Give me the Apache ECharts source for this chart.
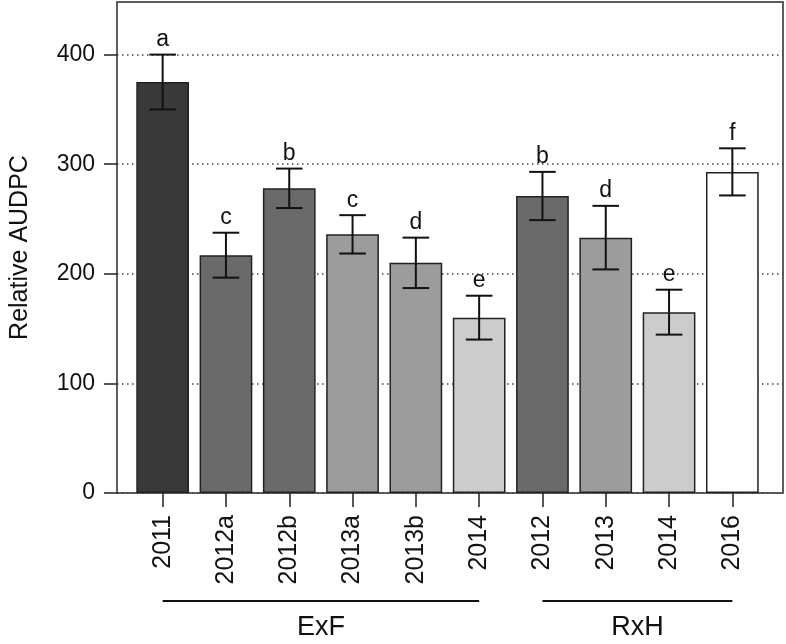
<!DOCTYPE html>
<html><head><meta charset="utf-8">
<script src="https://cdn.jsdelivr.net/npm/echarts@6/dist/echarts.min.js"></script>
<style>html,body{margin:0;padding:0;background:#fff}#c{width:786px;height:644px}</style>
</head><body><div id="c"></div>
<script>
const categories = ['2011','2012a','2012b','2013a','2013b','2014','2012','2013','2014','2016'];
const values = [375, 217, 278, 236, 210, 160, 271, 233, 165, 293];
const errors = [25, 20.5, 18, 17.5, 23, 20, 22, 29, 20.5, 21.5];
const letters = ['a','c','b','c','d','e','b','d','e','f'];
const barColors = ['#393939','#6a6a6a','#6a6a6a','#9c9c9c','#9c9c9c','#cccccc','#6a6a6a','#9c9c9c','#cccccc','#ffffff'];
const groupNames = ['ExF','RxH'];
const groupStart = [0, 6];
const groupEnd = [5, 9];
const yTicks = [0, 100, 200, 300, 400];
const yTitle = 'Relative AUDPC';

const FONT = "'Liberation Sans', Arial, Helvetica, sans-serif";
const chart = echarts.init(document.getElementById('c'), null, {renderer:'canvas'});

chart.setOption({
  animation: false,
  backgroundColor: '#ffffff',
  grid: [
    {left: 111, right: 3, top: 2, bottom: 151, show: true, borderColor: '#2a2a2a', borderWidth: 1.5, backgroundColor: 'transparent', containLabel: false},
    {left: 131, right: 22, top: 2, bottom: 151, containLabel: false}
  ],
  xAxis: [
    {type: 'value', gridIndex: 0, min: 0, max: 1, show: false},
    {type: 'category', gridIndex: 1, data: categories,
     axisLine: {show: false},
     axisTick: {show: true, alignWithLabel: true, length: 14, lineStyle: {color: '#222', width: 1.5}},
     axisLabel: {rotate: 90, margin: 22, fontSize: 25, color: '#111', fontFamily: FONT, interval: 0},
     splitLine: {show: false}}
  ],
  yAxis: [
    {type: 'value', gridIndex: 0, min: 0, max: 448, interval: 100,
     axisLine: {show: false},
     axisTick: {show: true, length: 13, customValues: yTicks, lineStyle: {color: '#222', width: 1.5}},
     axisLabel: {margin: 22, fontSize: 23, color: '#111', fontFamily: FONT, customValues: yTicks},
     splitLine: {show: true, lineStyle: {color: '#444', width: 1.5, type: [1.5, 3.5]}},
     name: yTitle, nameLocation: 'middle', nameGap: 84,
     nameTextStyle: {fontSize: 25, color: '#111', fontFamily: FONT}},
    {type: 'value', gridIndex: 1, min: 0, max: 448, show: false}
  ],
  series: [
    {type: 'bar', xAxisIndex: 1, yAxisIndex: 1, barWidth: '83.3%',
     data: values.map((v, i) => ({value: v, itemStyle: {color: barColors[i], borderColor: '#222', borderWidth: 1.5}})),
     z: 2},
    {type: 'custom', xAxisIndex: 1, yAxisIndex: 1, z: 3, clip: false,
     data: values.map((v, i) => [i, v, errors[i]]),
     encode: {x: 0, y: 1},
     renderItem: function (params, api) {
       const i = api.value(0), v = api.value(1), e = api.value(2);
       const top = api.coord([i, v + e]);
       const bot = api.coord([i, v - e]);
       const hw = api.size([1, 0])[0] * 0.21;
       const ls = {stroke: '#111', lineWidth: 2};
       return {type: 'group', children: [
         {type: 'line', shape: {x1: top[0], y1: top[1], x2: bot[0], y2: bot[1]}, style: ls},
         {type: 'line', shape: {x1: top[0] - hw, y1: top[1], x2: top[0] + hw, y2: top[1]}, style: ls},
         {type: 'line', shape: {x1: bot[0] - hw, y1: bot[1], x2: bot[0] + hw, y2: bot[1]}, style: ls},
         {type: 'text', style: {text: letters[params.dataIndex], x: top[0], y: top[1] - 15,
           align: 'center', verticalAlign: 'middle', font: '23px ' + FONT, fill: '#111'}}
       ]};
     }},
    {type: 'custom', xAxisIndex: 1, yAxisIndex: 1, z: 3, clip: false,
     data: groupStart.map((s, k) => [s, groupEnd[k], 0]),
     encode: {x: [0, 1], y: 2},
     renderItem: function (params, api) {
       const p1 = api.coord([api.value(0), 0]);
       const p2 = api.coord([api.value(1), 0]);
       const y = p1[1] + 108;
       return {type: 'group', children: [
         {type: 'line', shape: {x1: p1[0], y1: y, x2: p2[0], y2: y}, style: {stroke: '#111', lineWidth: 2}},
         {type: 'text', style: {text: groupNames[params.dataIndex], x: (p1[0] + p2[0]) / 2, y: y + 27,
           align: 'center', verticalAlign: 'middle', font: '27px ' + FONT, fill: '#111'}}
       ]};
     }}
  ]
});
</script>
</body></html>
